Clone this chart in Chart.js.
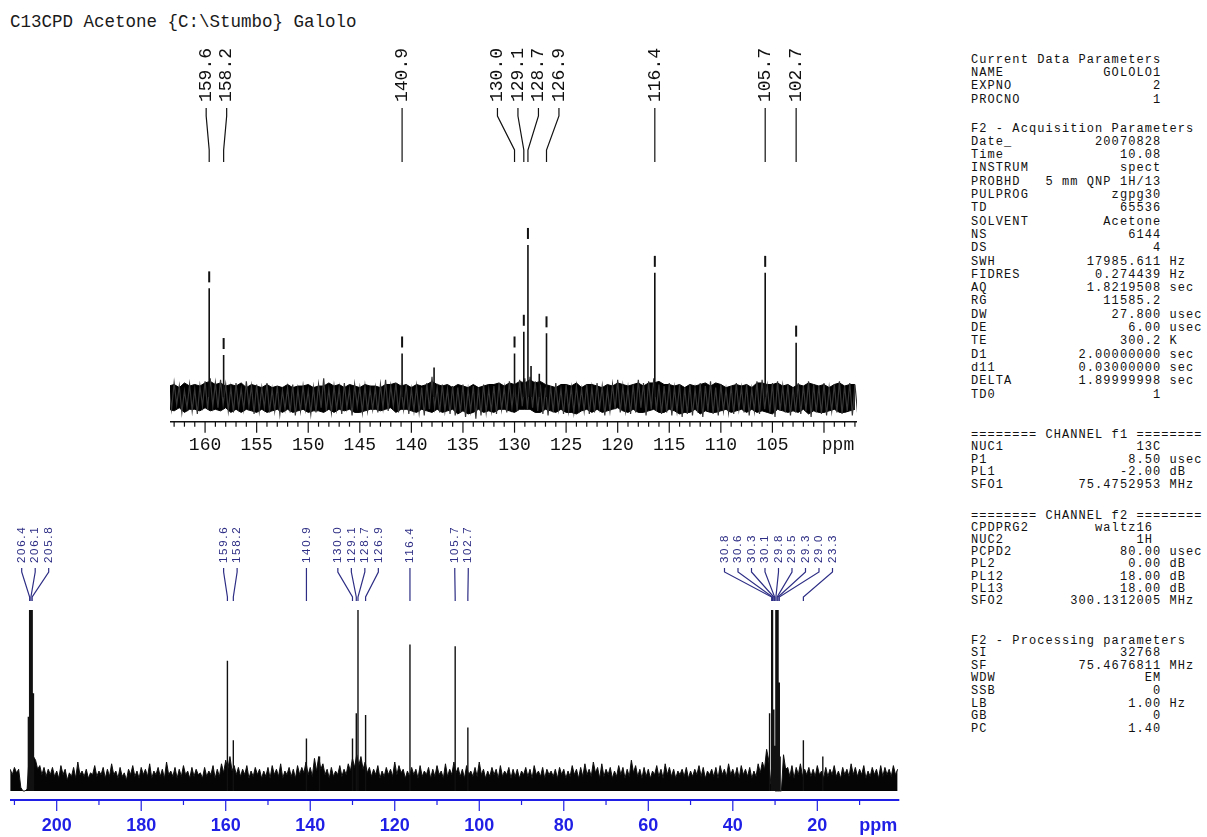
<!DOCTYPE html>
<html>
<head>
<meta charset="utf-8">
<script src="https://cdn.jsdelivr.net/npm/chart.js@4/dist/chart.umd.min.js"></script>
<style>
  body { margin: 0; background: #fff; width: 1207px; height: 837px; overflow: hidden; position: relative; font-family: "Liberation Mono", monospace; }
  #title { position: absolute; left: 10px; top: 11px; font-size: 17.5px; line-height: 22px; color: #1a1a1a; white-space: pre; }
  #topChart { position: absolute; left: 0; top: 0; }
  #botChart { position: absolute; left: 0; top: 480px; }
  .ln { position: absolute; left: 971px; font-size: 12px; letter-spacing: 1.07px; line-height: 13px; white-space: pre; color: #111; }
</style>
</head>
<body>
<div id="title">C13CPD Acetone {C:\Stumbo} Galolo</div>
<canvas id="topChart" width="900" height="470"></canvas>
<canvas id="botChart" width="910" height="357"></canvas>
<div id="params"></div>
<script>
// ---- expanded spectrum, 163 - 97 ppm ----
const topCoreStart = 163.5;   // ppm of first sample of the solid noise core
const topCoreStep = 0.5;
const topCoreHi = [
  7, 8, 6, 9, 7, 8, 7, 9, 10, 8,
  9, 7, 8, 7, 9, 6, 8, 7, 6, 8,
  6, 7, 6, 8, 6, 7, 7, 8, 6, 7,
  7, 9, 7, 8, 6, 8, 7, 6, 8, 7,
  7, 6, 8, 8, 9, 7, 8, 6, 8, 7,
  8, 10, 8, 7, 8, 6, 8, 7, 6, 8,
  6, 7, 8, 8, 9, 7, 9, 8, 10, 9,
  11, 9, 10, 8, 7, 6, 8, 8, 7, 9,
  6, 8, 8, 7, 6, 8, 7, 9, 8, 7,
  8, 9, 7, 9, 9, 10, 8, 8, 7, 8,
  6, 8, 7, 8, 9, 7, 9, 8, 6, 7,
  8, 7, 8, 6, 9, 9, 8, 8, 9, 7,
  8, 6, 8, 7, 9, 8, 7, 8, 6, 8,
  9, 7, 8, 8
];
const topCoreLo = [
  -8, -9, -7, -10, -8, -8, -9, -7, -9, -8,
  -9, -7, -10, -8, -10, -8, -9, -10, -8, -10,
  -9, -8, -10, -8, -10, -9, -8, -10, -9, -9,
  -10, -8, -10, -8, -9, -8, -10, -10, -9, -8,
  -8, -9, -8, -7, -10, -8, -8, -9, -10, -8,
  -9, -10, -8, -10, -9, -8, -11, -9, -11, -10,
  -8, -10, -9, -10, -8, -8, -9, -10, -8, -8,
  -8, -10, -10, -8, -9, -10, -8, -10, -10, -11,
  -9, -8, -10, -8, -10, -9, -8, -7, -9, -10,
  -8, -10, -10, -9, -8, -10, -10, -8, -9, -11,
  -10, -10, -8, -11, -9, -10, -10, -9, -8, -10,
  -9, -8, -10, -8, -10, -9, -10, -11, -8, -9,
  -10, -9, -10, -8, -11, -9, -10, -10, -9, -8,
  -10, -10, -9, -8
];
const topTraceStart = 163.5;  // the noisy trace itself
const topTraceStep = 0.25;
const topTrace = [
  6, -8, 9, -5, 7, -10, 4, -7, 8, -9, 5, -11, 7, -6, 10, -8, 12, -6, 9, -7,
  11, -5, 8, -9, 6, -10, 9, -7, 5, -8, 10, -6, 7, -11, 8, -9, 6, -7, 9, -10,
  5, -9, 7, -11, 4, -8, 6, -10, 8, -12, 5, -9, 7, -8, 4, -11, 6, -10, 8, -7,
  12, -9, 5, -10, 7, -8, 6, -11, 9, -7, 5, -12, 8, -6, 6, -10, 7, -9, 5, -8,
  6, -10, 8, -7, 11, -9, 7, -6, 9, -10, 6, -8, 8, -11, 5, -9, 7, -10, 6, -12,
  9, -8, 13, -7, 6, -10, 8, -9, 5, -11, 7, -12, 6, -10, 8, -13, 5, -9, 7, -14,
  6, -12, 8, -10, 5, -9, 7, -11, 9, -8, 6, -10, 10, -7, 8, -9, 11, -6, 12, -8,
  13, -7, 10, -9, 8, -11, 6, -12, 7, -10, 9, -8, 5, -11, 8, -9, 6, -10, 7, -8,
  5, -9, 8, -11, 6, -10, 9, -7, 7, -12, 5, -9, 8, -8, 11, -10, 7, -9, 6, -11,
  8, -10, 11, -7, 9, -12, 10, -8, 12, -9, 8, -11, 7, -10, 9, -12, 6, -9, 8, -13,
  6, -11, 8, -12, 5, -10, 9, -13, 7, -9, 10, -11, 6, -12, 8, -9, 5, -10, 7, -11,
  9, -8, 6, -10, 8, -12, 5, -9, 10, -11, 11, -8, 7, -10, 9, -13, 10, -9, 7, -10,
  8, -12, 6, -10, 9, -11, 7, -9, 10, -13, 8, -10, 7, -11, 9, -12, 6, -9, 8, -10,
  10, -11, 7, -9, 9, -12, 8, -10
];
const topPeakPpm =    [159.6, 158.2, 140.9, 137.8, 130.0, 129.1, 128.7, 128.4, 127.6, 126.9, 116.4, 105.7, 102.7];
const topPeakHeight = [70,    27,    28,    19,    28,    42,    98,    20,    15,    41,    80,    80,    35];
const topLabels = ['159.6', '158.2', '140.9', '130.0', '129.1', '128.7', '126.9', '116.4', '105.7', '102.7'];
const topTicks = [160, 155, 150, 145, 140, 135, 130, 125, 120, 115, 110, 105];

// ---- full spectrum, 211 - 1 ppm ----
const botNoiseStart = 211;
const botNoiseStep = 0.5;
const botNoise = [
  12, 9, 13, 10, 12, 2, 0, 0, 1, 20, 21, 19, 17, 12, 14, 9, 13, 8, 12, 9,
  13, 8, 11, 7, 14, 9, 12, 6, 10, 8, 13, 7, 16, 9, 11, 8, 12, 7, 10, 9,
  14, 8, 11, 9, 13, 7, 12, 8, 15, 9, 11, 7, 13, 8, 10, 6, 12, 9, 14, 8,
  11, 7, 13, 9, 12, 8, 15, 7, 11, 9, 13, 8, 12, 7, 16, 9, 11, 8, 13, 7,
  12, 8, 14, 9, 11, 7, 13, 8, 12, 9, 10, 7, 13, 8, 11, 9, 14, 7, 12, 8,
  15, 10, 17, 12, 19, 11, 14, 9, 13, 8, 12, 9, 14, 7, 11, 8, 13, 9, 12, 7,
  11, 8, 13, 7, 14, 9, 12, 8, 15, 7, 11, 9, 13, 8, 12, 7, 14, 9, 13, 10,
  16, 9, 13, 8, 18, 11, 19, 12, 15, 9, 12, 7, 13, 8, 11, 9, 14, 8, 12, 9,
  15, 11, 18, 13, 20, 14, 19, 12, 16, 10, 13, 8, 12, 9, 14, 7, 11, 8, 13, 9,
  12, 8, 16, 9, 14, 10, 12, 7, 11, 8, 13, 9, 12, 7, 14, 8, 11, 9, 13, 7,
  12, 8, 14, 9, 11, 7, 15, 8, 12, 9, 16, 10, 13, 8, 12, 7, 14, 9, 11, 8,
  13, 8, 16, 9, 12, 7, 11, 8, 13, 9, 12, 7, 14, 8, 11, 9, 13, 7, 12, 8,
  12, 7, 11, 9, 13, 8, 12, 7, 14, 9, 11, 8, 13, 7, 12, 9, 11, 8, 12, 7,
  13, 9, 12, 7, 11, 8, 14, 9, 12, 7, 13, 8, 15, 9, 12, 8, 16, 10, 13, 7,
  15, 8, 12, 9, 13, 7, 11, 8, 14, 9, 13, 7, 12, 8, 17, 10, 14, 8, 12, 7,
  13, 8, 12, 7, 11, 9, 14, 8, 12, 7, 15, 9, 13, 8, 12, 7, 11, 9, 12, 8,
  13, 7, 11, 8, 12, 9, 14, 8, 13, 7, 11, 9, 12, 8, 13, 7, 14, 9, 12, 8,
  15, 9, 12, 8, 13, 7, 14, 9, 12, 8, 13, 7, 11, 8, 15, 10, 16, 12, 23, 17,
  4, 2, 0, 0, 0, 0, 20, 12, 13, 8, 14, 7, 13, 9, 15, 8, 12, 9, 13, 8,
  12, 8, 14, 9, 11, 7, 13, 8, 12, 9, 14, 8, 11, 7, 13, 9, 12, 8, 15, 9,
  13, 8, 12, 9, 14, 7, 11, 8, 13, 9, 12, 7, 14, 8, 13, 9, 12, 8, 14, 9,
  12
];
const botPeakPpm =    [206.7, 206.4, 206.1, 205.8, 205.5, 159.6, 158.2, 140.9, 137.8, 130.0, 129.1, 128.7, 126.9, 116.4, 105.7, 102.7,
                       31.3, 30.8, 30.6, 30.3, 30.1, 29.8, 29.5, 29.3, 29.0, 28.8, 23.3, 18.7];
const botPeakHeight = [41,    100,   100,   100,   54,    72,    28,    29,    19,    29,    43,    100,   42,    81,    80,    35,
                       43,   100,  100,  45,   25,   100,  100,  100,  60,   19,   28,   19];
const botLabels = ['206.4', '206.1', '205.8', '159.6', '158.2', '140.9', '130.0', '129.1', '128.7', '126.9', '116.4', '105.7', '102.7',
                   '30.8', '30.6', '30.3', '30.1', '29.8', '29.5', '29.3', '29.0', '23.3'];
const botTicks = [200, 180, 160, 140, 120, 100, 80, 60, 40, 20];

// ---- acquisition parameter panel ----
const paramHeaders = ['Current Data Parameters', 'F2 - Acquisition Parameters', '======== CHANNEL f1 ========',
                      '======== CHANNEL f2 ========', 'F2 - Processing parameters'];
const paramRows = [
  [['NAME', 'GOLOLO1'], ['EXPNO', '2'], ['PROCNO', '1']],
  [['Date_', '20070828'], ['Time', '10.08'], ['INSTRUM', 'spect'], ['PROBHD', '5 mm QNP 1H/13'], ['PULPROG', 'zgpg30'],
   ['TD', '65536'], ['SOLVENT', 'Acetone'], ['NS', '6144'], ['DS', '4'], ['SWH', '17985.611', 'Hz'],
   ['FIDRES', '0.274439', 'Hz'], ['AQ', '1.8219508', 'sec'], ['RG', '11585.2'], ['DW', '27.800', 'usec'],
   ['DE', '6.00', 'usec'], ['TE', '300.2', 'K'], ['D1', '2.00000000', 'sec'], ['d11', '0.03000000', 'sec'],
   ['DELTA', '1.89999998', 'sec'], ['TD0', '1']],
  [['NUC1', '13C'], ['P1', '8.50', 'usec'], ['PL1', '-2.00', 'dB'], ['SFO1', '75.4752953', 'MHz']],
  [['CPDPRG2', 'waltz16', '', 22], ['NUC2', '1H', '', 22], ['PCPD2', '80.00', 'usec'], ['PL2', '0.00', 'dB'],
   ['PL12', '18.00', 'dB'], ['PL13', '18.00', 'dB'], ['SFO2', '300.1312005', 'MHz']],
  [['SI', '32768'], ['SF', '75.4676811', 'MHz'], ['WDW', 'EM'], ['SSB', '0'], ['LB', '1.00', 'Hz'], ['GB', '0'], ['PC', '1.40']]
];

// panel text
const blockTop = [60, 129, 435, 516, 641];
const blockStep = [13.4, 13.3, 12.6, 12.2, 12.6];
const params = document.getElementById('params');
function addLine(txt, y) {
  const d = document.createElement('div');
  d.className = 'ln';
  d.style.top = (y - 6.5) + 'px';
  d.textContent = txt;
  params.appendChild(d);
}
paramHeaders.forEach((h, b) => {
  addLine(h, blockTop[b]);
  paramRows[b].forEach((r, i) => {
    const end = r[3] || 23;
    const pad = Math.max(1, end - r[0].length - r[1].length);
    addLine(r[0] + ' '.repeat(pad) + r[1] + (r[2] ? ' ' + r[2] : ''), blockTop[b] + (i + 1) * blockStep[b]);
  });
});

function noiseLine(start, step, vals) {
  return vals.map((v, i) => ({ x: start - i * step, y: v }));
}
function peakLines(ppm, h) {
  const out = [];
  ppm.forEach((p, i) => out.push({ x: p, y: 0 }, { x: p, y: h[i] }, { x: p, y: null }));
  return out;
}

// spread crowded labels apart, keeping each cluster centred on its peaks
function spread(xs, gap, minX) {
  const groups = xs.map(x => ({ sum: x, n: 1 }));
  let merged = true;
  while (merged) {
    merged = false;
    for (let i = 0; i < groups.length - 1; i++) {
      const a = groups[i], b = groups[i + 1];
      const aEnd = a.sum / a.n + (a.n - 1) / 2 * gap;
      const bStart = b.sum / b.n - (b.n - 1) / 2 * gap;
      if (bStart - aEnd < gap) {
        groups.splice(i, 2, { sum: a.sum + b.sum, n: a.n + b.n });
        merged = true;
        break;
      }
    }
  }
  const out = [];
  groups.forEach(g => {
    let s = g.sum / g.n - (g.n - 1) / 2 * gap;
    if (minX != null && s < minX) s = minX;
    for (let k = 0; k < g.n; k++) out.push(s + k * gap);
  });
  return out;
}

function decor(cfg) {
  return {
    id: 'decor',
    afterDatasetsDraw(chart) {
      const ctx = chart.ctx, xs = chart.scales.x, ys = chart.scales.y, ca = chart.chartArea;
      ctx.save();
      // x axis
      ctx.strokeStyle = cfg.axisColor;
      ctx.lineWidth = cfg.axisWidth;
      ctx.beginPath();
      ctx.moveTo(ca.left, ca.bottom);
      ctx.lineTo(ca.right, ca.bottom);
      ctx.stroke();
      ctx.lineWidth = 1.2;
      for (let v = Math.ceil(xs.min); v <= Math.floor(xs.max); v++) {
        if (v % cfg.minorStep !== 0) continue;
        const px = xs.getPixelForValue(v);
        const len = v % cfg.majorStep === 0 ? cfg.majorLen : cfg.minorLen;
        ctx.beginPath();
        ctx.moveTo(px, ca.bottom);
        ctx.lineTo(px, ca.bottom + len);
        ctx.stroke();
      }
      ctx.fillStyle = cfg.axisColor;
      ctx.font = cfg.tickFont;
      ctx.textAlign = 'center';
      ctx.textBaseline = 'middle';
      cfg.ticks.forEach(t => ctx.fillText(String(t), xs.getPixelForValue(t), cfg.tickY));
      ctx.fillText('ppm', ca.right - cfg.ppmInset, cfg.tickY);

      // peak labels with leader lines
      const items = cfg.labels.map(t => ({ t: t, px: xs.getPixelForValue(parseFloat(t)) }))
        .sort((a, b) => a.px - b.px);
      const lx = spread(items.map(it => it.px), cfg.labelGap, cfg.labelMinX);
      ctx.fillStyle = cfg.labelColor;
      ctx.strokeStyle = cfg.labelColor;
      ctx.font = cfg.labelFont;
      ctx.lineWidth = 1.2;
      if (cfg.letterSpacing) ctx.letterSpacing = cfg.letterSpacing;
      items.forEach((it, i) => {
        ctx.save();
        ctx.translate(lx[i], cfg.textBottom);
        ctx.rotate(-Math.PI / 2);
        ctx.textAlign = 'left';
        ctx.textBaseline = 'middle';
        ctx.fillText(it.t, 0, 0);
        ctx.restore();
        const L = cfg.lead;
        ctx.beginPath();
        ctx.moveTo(lx[i], L[0]);
        ctx.lineTo(lx[i], L[1]);
        ctx.lineTo(it.px, L[2]);
        ctx.lineTo(it.px, L[3]);
        ctx.stroke();
      });
      ctx.letterSpacing = '0px';

      // peak-pick marks above the peaks
      if (cfg.marks) {
        ctx.strokeStyle = '#111';
        ctx.lineWidth = 2;
        cfg.labels.forEach(t => {
          const p = parseFloat(t);
          const k = cfg.peakPpm.indexOf(p);
          const py = ys.getPixelForValue(cfg.peakHeight[k]);
          const px = xs.getPixelForValue(p);
          ctx.beginPath();
          ctx.moveTo(px, py - 6);
          ctx.lineTo(px, py - 17);
          ctx.stroke();
        });
      }
      ctx.restore();
    }
  };
}

const common = {
  responsive: false,
  animation: false,
  events: [],
  plugins: { legend: { display: false }, tooltip: { enabled: false } },
  elements: { point: { radius: 0 }, line: { tension: 0 } }
};

new Chart(document.getElementById('topChart'), {
  type: 'line',
  data: {
    datasets: [
      { data: peakLines(topPeakPpm, topPeakHeight), borderColor: '#111', borderWidth: 1.6, spanGaps: false, order: 0 },
      { data: noiseLine(topTraceStart, topTraceStep, topTrace), borderColor: '#383838', borderWidth: 1.2, order: 1 },
      { data: noiseLine(topCoreStart, topCoreStep, topCoreHi), borderColor: '#000', borderWidth: 1,
        fill: '+1', backgroundColor: '#000', order: 2 },
      { data: noiseLine(topCoreStart, topCoreStep, topCoreLo), borderColor: '#000', borderWidth: 1, order: 3 }
    ]
  },
  options: Object.assign({}, common, {
    layout: { padding: { left: 170, right: 43, top: 200, bottom: 48.3 } },
    scales: {
      x: { type: 'linear', reverse: true, min: 96.8, max: 163.4, display: false },
      y: { min: -16, max: 127, display: false }
    }
  }),
  plugins: [decor({
    axisColor: '#111', axisWidth: 1.5, minorStep: 1, majorStep: 5, majorLen: 11, minorLen: 5,
    tickFont: '18px "Liberation Mono", monospace', tickY: 445, ticks: topTicks, ppmInset: 19,
    labels: topLabels, labelGap: 20.5, labelMinX: null, labelColor: '#111',
    labelFont: '18px "Liberation Mono", monospace', textBottom: 102, lead: [108, 116, 150, 162],
    marks: true, peakPpm: topPeakPpm, peakHeight: topPeakHeight
  })]
});

new Chart(document.getElementById('botChart'), {
  type: 'line',
  data: {
    datasets: [
      { data: peakLines(botPeakPpm, botPeakHeight), borderColor: '#111', borderWidth: 1.4, spanGaps: false, order: 0 },
      { data: noiseLine(botNoiseStart, botNoiseStep, botNoise), borderColor: '#111', borderWidth: 1,
        fill: { value: 0 }, backgroundColor: '#050505', order: 1 }
    ]
  },
  options: Object.assign({}, common, {
    layout: { padding: { left: 10, right: 10.7, top: 130, bottom: 37 } },
    scales: {
      x: { type: 'linear', reverse: true, min: 0.6, max: 211.05, display: false },
      y: { min: -5, max: 100, display: false }
    }
  }),
  plugins: [decor({
    axisColor: '#1f1fe6', axisWidth: 2, minorStep: 10, majorStep: 20, majorLen: 11, minorLen: 5,
    tickFont: 'bold 18px "Liberation Sans", Arial, sans-serif', tickY: 346, ticks: botTicks, ppmInset: 21,
    labels: botLabels, labelGap: 13.5, labelMinX: 21.7, labelColor: '#2d2d85',
    labelFont: '11.5px "Liberation Sans", Arial, sans-serif', letterSpacing: '1.7px',
    textBottom: 83, lead: [88, 92, 117, 121], marks: false
  })]
});
</script>
</body>
</html>
